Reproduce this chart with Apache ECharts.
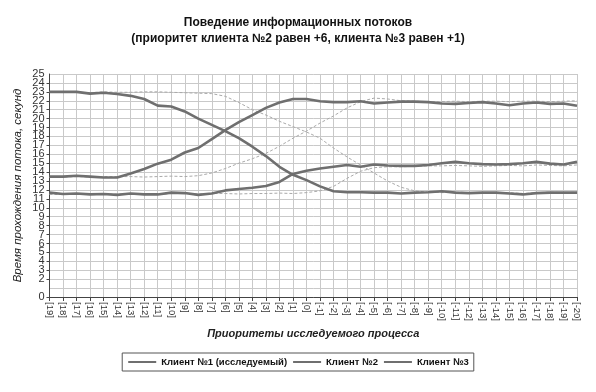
<!DOCTYPE html>
<html>
<head>
<meta charset="utf-8">
<script src="https://cdn.jsdelivr.net/npm/echarts@6/dist/echarts.min.js"></script>
<style>html,body{margin:0;padding:0;background:#fff}#c{width:596px;height:392px}</style>
</head>
<body>
<div id="c"></div>
<script>
const categories = ['[19]','[18]','[17]','[16]','[15]','[14]','[13]','[12]','[11]','[10]','[9]','[8]','[7]','[6]','[5]','[4]','[3]','[2]','[1]','[0]','[-1]','[-2]','[-3]','[-4]','[-5]','[-6]','[-7]','[-8]','[-9]','[-10]','[-11]','[-12]','[-13]','[-14]','[-15]','[-16]','[-17]','[-18]','[-19]','[-20]'];
const client1 = [23.0,23.0,23.0,22.8,22.9,22.75,22.55,22.2,21.45,21.35,20.8,20.0,19.3,18.6,17.8,16.85,15.8,14.6,13.7,13.1,12.4,11.85,11.75,11.75,11.7,11.7,11.6,11.7,11.75,11.85,11.7,11.65,11.7,11.7,11.6,11.5,11.65,11.7,11.7,11.7];
const client2 = [13.5,13.5,13.6,13.5,13.4,13.4,13.85,14.35,14.95,15.4,16.2,16.7,17.7,18.7,19.6,20.4,21.2,21.8,22.2,22.2,21.95,21.85,21.85,21.95,21.7,21.8,21.9,21.9,21.85,21.7,21.65,21.75,21.85,21.7,21.5,21.7,21.8,21.65,21.7,21.45];
const client3 = [11.7,11.55,11.6,11.5,11.55,11.45,11.6,11.5,11.5,11.7,11.65,11.45,11.6,11.95,12.1,12.25,12.45,12.9,13.8,14.15,14.4,14.6,14.8,14.6,14.85,14.75,14.7,14.7,14.8,15.0,15.15,15.0,14.9,14.85,14.9,15.0,15.15,14.95,14.85,15.15];
const ref1 = [23.0,23.0,22.95,22.9,23.0,22.95,22.95,23.0,23.0,22.95,22.9,22.85,22.8,22.5,21.8,21.0,20.4,19.7,19.1,18.5,17.8,16.7,15.7,14.8,13.9,13.0,12.3,11.9,11.75,11.7,11.75,11.7,11.7,11.65,11.7,11.6,11.7,11.75,11.7,11.75];
const ref2 = [13.4,13.45,13.5,13.45,13.5,13.5,13.5,13.45,13.5,13.55,13.5,13.6,13.9,14.4,15.0,15.5,16.1,16.9,17.8,18.6,19.5,20.3,21.2,21.9,22.3,22.2,22.0,21.95,21.9,21.9,21.95,21.9,21.95,21.95,21.9,21.95,21.95,21.9,21.95,22.0];
const ref3 = [11.5,11.5,11.55,11.5,11.5,11.55,11.5,11.55,11.5,11.6,11.6,11.55,11.6,11.6,11.55,11.6,11.6,11.65,11.6,11.7,11.9,12.4,13.3,14.1,14.5,14.6,14.6,14.65,14.7,14.7,14.75,14.7,14.65,14.7,14.75,14.7,14.8,14.75,14.7,14.8];
const yTicks = {min:0, max:25, interval:1};
const names = ['Клиент №1 (исследуемый)','Клиент №2','Клиент №3'];

const FONT = "'Liberation Sans', Arial, sans-serif";
const solid = {type:'line', symbol:'none', smooth:false, lineStyle:{color:'#6f6f6f', width:2.6}, itemStyle:{color:'#6f6f6f'}, z:3, yAxisIndex:0};
const dashed = {type:'line', symbol:'none', lineStyle:{color:'#a9a9a9', width:1, type:[3,2]}, itemStyle:{color:'#a9a9a9'}, z:2, yAxisIndex:0};
const yLabelStyle = {fontFamily:FONT, fontSize:11, color:'#333', margin:5, hideOverlap:false};

const chart = echarts.init(document.getElementById('c'), null, {renderer:'canvas'});
chart.setOption({
  animation:false,
  backgroundColor:'#fff',
  title:{
    text:'Поведение информационных потоков\n(приоритет клиента №2 равен +6, клиента №3 равен +1)',
    left:'center', top:10,
    textStyle:{fontFamily:FONT, fontSize:12, fontWeight:'bold', color:'#111', lineHeight:16}
  },
  legend:{
    data:names, left:'center', top:353,
    itemWidth:28, itemHeight:2, itemGap:5,
    borderColor:'#555', borderWidth:1, padding:[4,5,4,5],
    textStyle:{fontFamily:FONT, fontSize:9.5, fontWeight:'bold', color:'#111'}
  },
  grid:{left:49.5, right:19, top:74, bottom:95, containLabel:false},
  xAxis:{
    type:'category', data:categories, boundaryGap:false,
    name:'Приоритеты исследуемого процесса', nameLocation:'middle', nameGap:31,
    nameTextStyle:{fontFamily:FONT, fontSize:11, fontStyle:'italic', fontWeight:'bold', color:'#222'},
    axisLine:{lineStyle:{color:'#444', width:1}},
    axisTick:{show:true, interval:0, length:4, lineStyle:{color:'#444'}},
    axisLabel:{interval:0, rotate:-90, fontFamily:FONT, fontSize:9.5, color:'#333', margin:5},
    splitLine:{show:true, interval:0, lineStyle:{color:'#c9c9c9', width:1}}
  },
  yAxis:[{
    type:'value', position:'left', min:yTicks.min, max:yTicks.max, interval:yTicks.interval,
    name:'Время прохождения потока, секунд', nameLocation:'middle', nameGap:26, nameMoveOverlap:false,
    nameTextStyle:{fontFamily:FONT, fontSize:11.5, fontStyle:'italic', color:'#222'},
    axisLine:{show:true, lineStyle:{color:'#444', width:1}},
    axisTick:{show:true, length:3, lineStyle:{color:'#444'}},
    axisLabel:Object.assign({showMinLabel:true, showMaxLabel:false}, yLabelStyle),
    splitLine:{show:true, lineStyle:{color:'#c9c9c9', width:1}}
  },{
    type:'value', position:'left', offset:0, min:yTicks.min, max:yTicks.max, interval:yTicks.interval,
    axisLine:{show:false}, axisTick:{show:false}, splitLine:{show:false},
    axisLabel:Object.assign({showMinLabel:false, showMaxLabel:true, formatter:function(v){return v===yTicks.max?String(v):'';}}, yLabelStyle)
  }],
  series:[
    Object.assign({name:'Ref1', data:ref1}, dashed),
    Object.assign({name:'Ref2', data:ref2}, dashed),
    Object.assign({name:'Ref3', data:ref3}, dashed),
    Object.assign({name:names[0], data:client1}, solid),
    Object.assign({name:names[1], data:client2}, solid),
    Object.assign({name:names[2], data:client3}, solid)
  ]
});
</script>
</body>
</html>
